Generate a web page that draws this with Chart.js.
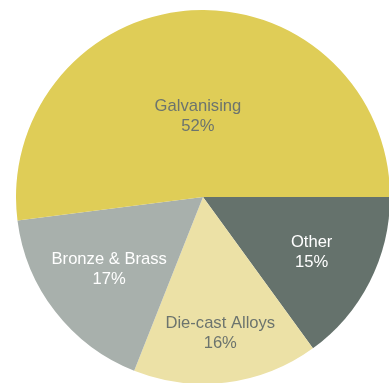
<!DOCTYPE html>
<html>
<head>
<meta charset="utf-8">
<script src="https://cdn.jsdelivr.net/npm/chart.js@4/dist/chart.umd.min.js"></script>
<style>
    html, body { margin: 0; padding: 0; background: #ffffff; overflow: hidden; width: 389px; height: 383px; }
    #wrap { position: absolute; left: 16px; top: 10px; width: 374px; height: 374px; }
</style>
</head>
<body>
<div id="wrap"><canvas id="zincChart" width="374" height="374"></canvas></div>
<script>
// --- Usage shares (clockwise from 3 o'clock) ---
const categories = ["Other", "Die-cast Alloys", "Bronze & Brass", "Galvanising"];
const shares = [15, 16, 17, 52];

const sliceColors = ["#65726c", "#ece1a6", "#a8b0ac", "#dfcd57"];
const textColors = ["#ffffff", "#6c746e", "#ffffff", "#6c746e"];
// label distance from centre, as a fraction of the radius
const labelRadius = [0.652, 0.737, 0.635, 0.43];

const sliceLabels = {
    id: "sliceLabels",
    afterDatasetsDraw(chart) {
        const ctx = chart.ctx;
        const arcs = chart.getDatasetMeta(0).data;
        ctx.save();
        ctx.font = "16.6px 'Liberation Sans', Arial, sans-serif";
        ctx.textAlign = "center";
        ctx.textBaseline = "middle";
        arcs.forEach((arc, i) => {
            const mid = (arc.startAngle + arc.endAngle) / 2;
            const r = arc.outerRadius * labelRadius[i];
            const x = arc.x + Math.cos(mid) * r;
            const y = arc.y + Math.sin(mid) * r;
            ctx.fillStyle = textColors[i];
            ctx.fillText(categories[i], x, y - 10);
            ctx.fillText(shares[i] + "%", x, y + 10);
        });
        ctx.restore();
    }
};

new Chart(document.getElementById("zincChart"), {
    type: "pie",
    data: {
        labels: categories,
        datasets: [{
            data: shares,
            backgroundColor: sliceColors,
            borderWidth: 0
        }]
    },
    options: {
        responsive: false,
        animation: false,
        rotation: 90,
        layout: { padding: 0 },
        plugins: {
            legend: { display: false },
            tooltip: { enabled: false }
        }
    },
    plugins: [sliceLabels]
});
</script>
</body>
</html>
